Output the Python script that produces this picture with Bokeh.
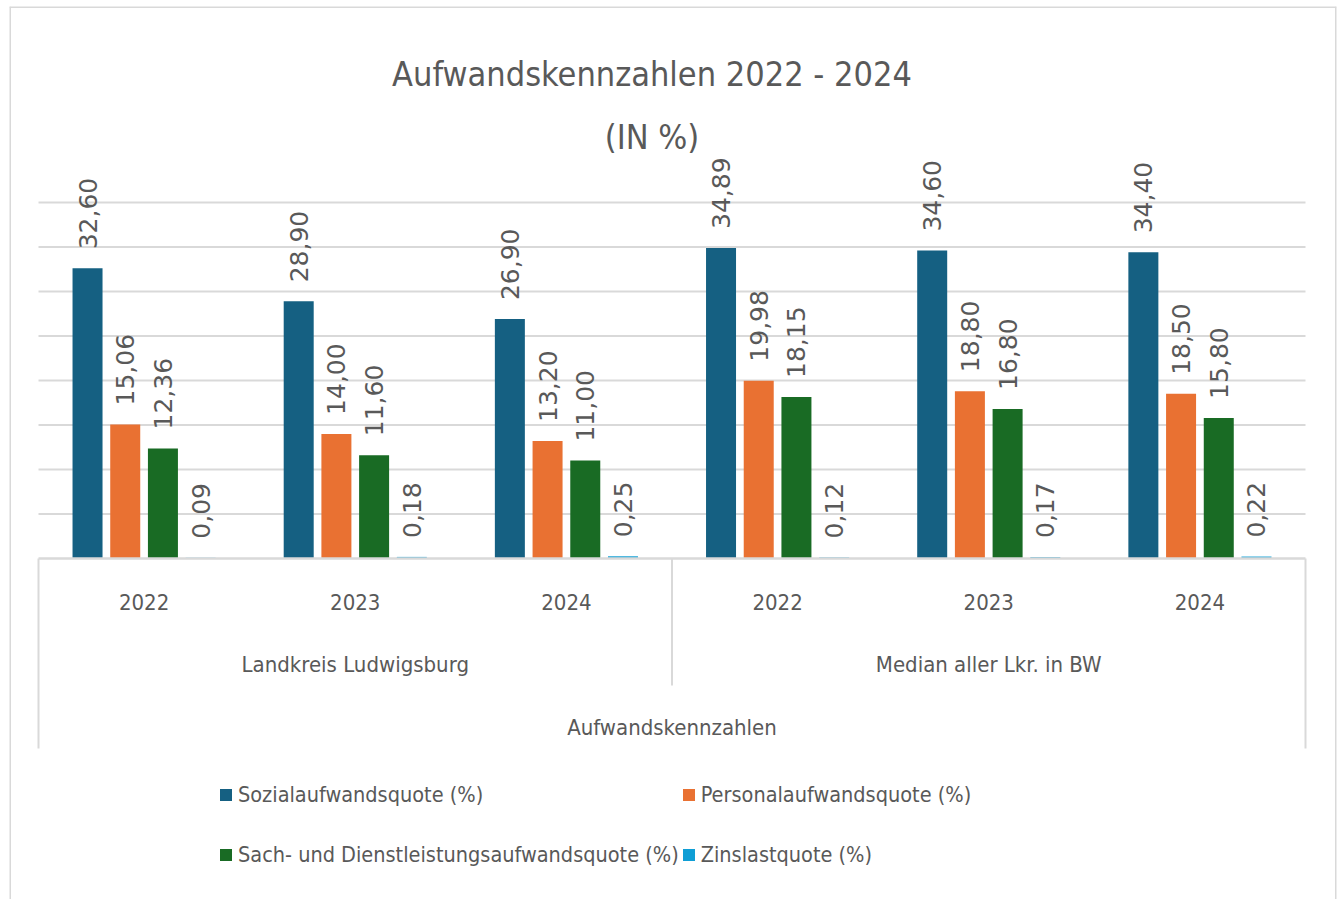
import math
from bokeh.plotting import figure
from bokeh.models import Range1d, Legend, LegendItem
from bokeh.core.properties import value
from bokeh.embed import file_html
from bokeh.resources import INLINE

# ---------------- data ----------------
title_line1 = "Aufwandskennzahlen 2022 - 2024"
title_line2 = "(IN %)"
axis_title = "Aufwandskennzahlen"
groups = ["Landkreis Ludwigsburg", "Median aller Lkr. in BW"]
years = ["2022", "2023", "2024"]
series = [
    "Sozialaufwandsquote (%)",
    "Personalaufwandsquote (%)",
    "Sach- und Dienstleistungsaufwandsquote (%)",
    "Zinslastquote (%)",
]
sozial = [32.60, 28.90, 26.90, 34.89, 34.60, 34.40]
personal = [15.06, 14.00, 13.20, 19.98, 18.80, 18.50]
sach = [12.36, 11.60, 11.00, 18.15, 16.80, 15.80]
zins = [0.09, 0.18, 0.25, 0.12, 0.17, 0.22]
grid_ticks = [5, 10, 15, 20, 25, 30, 35, 40]

# ---------------- styling / layout ----------------
colors = ["#156082", "#E97132", "#196B24", "#0F9ED5"]
TXT = "#595959"
GRID = "#D9D9D9"
NARROW = "DejaVu Sans Condensed"
LBLFONT = "DejaVu Sans"

W, H = 1341, 899
BL, BT, BR, BB = 9, 6, 5, 0            # outer borders -> frame = chart area
FW, FH = W - BL - BR, H - BT - BB      # frame size
PL, PR = 29, 1296                      # plot area left/right inside frame (px)
PB = 552                               # baseline inside frame (px from top)
PPU = 8.9                              # px per value unit
ncat = len(groups) * len(years)
PPX = (PR - PL) / ncat

def ydata(px_from_top):
    return (PB - px_from_top) / PPU

x_rng = Range1d(-PL / PPX, ncat + (FW - PR) / PPX)
y_rng = Range1d(-(FH - PB) / PPU, PB / PPU)

p = figure(width=W, height=H, x_range=x_rng, y_range=y_rng,
           output_backend="svg", toolbar_location=None,
           x_axis_location=None, y_axis_location=None,
           min_border_left=BL, min_border_right=BR,
           min_border_top=BT, min_border_bottom=BB)
p.outline_line_color = None
p.background_fill_color = "white"
p.border_fill_color = "white"
p.xgrid.visible = False
p.ygrid.visible = False

# chart-area border (left, top, right; bottom runs past the window)
p.segment(x0=[x_rng.start, x_rng.start, x_rng.end],
          x1=[x_rng.start, x_rng.end, x_rng.end],
          y0=[y_rng.start, y_rng.end, y_rng.start],
          y1=[y_rng.end, y_rng.end, y_rng.end],
          line_color=GRID, line_width=3)

# gridlines
p.segment(x0=[0] * len(grid_ticks), x1=[ncat] * len(grid_ticks),
          y0=grid_ticks, y1=grid_ticks, line_color=GRID, line_width=2)

# bars
slot = 37.7 / PPX
bw = 30.0 / PPX
all_vals = [sozial, personal, sach, zins]
renderers = []
for i, vals in enumerate(all_vals):
    xs = [k + 0.5 + (i - 1.5) * slot for k in range(ncat)]
    r = p.vbar(x=xs, top=vals, bottom=0, width=bw, fill_color=colors[i],
               line_color=None)
    renderers.append(r)
    labels = [f"{v:.2f}".replace(".", ",") for v in vals]
    p.text(x=xs, y=vals, text=labels, angle=math.pi / 2,
           text_align="left", text_baseline="middle", y_offset=-19,
           text_font=value(LBLFONT), text_font_size="25px", text_color=TXT)

# category axis line and separators
p.segment(x0=[0], x1=[ncat], y0=[0], y1=[0], line_color=GRID, line_width=2.5)
p.segment(x0=[0, ncat], x1=[0, ncat], y0=[0, 0], y1=[-190 / PPU] * 2,
          line_color=GRID, line_width=2)
p.segment(x0=[ncat / 2], x1=[ncat / 2], y0=[0], y1=[-127 / PPU],
          line_color=GRID, line_width=2)

# category labels
cat_x = [k + 0.5 for k in range(ncat)]
p.text(x=cat_x, y=[0] * ncat, text=years * len(groups), y_offset=43,
       text_align="center", text_baseline="middle",
       text_font=value(NARROW), text_font_size="22px", text_color=TXT)
grp_x = [len(years) * (g + 0.5) for g in range(len(groups))]
p.text(x=grp_x, y=[0] * len(groups), text=groups, y_offset=106,
       text_align="center", text_baseline="middle",
       text_font=value(NARROW), text_font_size="22px", text_color=TXT)
p.text(x=[ncat / 2], y=[0], text=[axis_title], y_offset=169,
       text_align="center", text_baseline="middle",
       text_font=value(NARROW), text_font_size="22px", text_color=TXT)

# title
p.text(x=[ncat / 2], y=[ydata(67)], text=[title_line1], x_offset=-20,
       text_align="center", text_baseline="middle",
       text_font=value(NARROW), text_font_size="34px", text_color=TXT)
p.text(x=[ncat / 2], y=[ydata(130)], text=[title_line2], x_offset=-20,
       text_align="center", text_baseline="middle",
       text_font=value(NARROW), text_font_size="34px", text_color=TXT)

# legend
legend = Legend(items=[LegendItem(label=series[i], renderers=[renderers[i]]) for i in range(4)],
                orientation="horizontal", ncols=2, location=(209, 16),
                glyph_width=15, glyph_height=15, label_standoff=5,
                spacing=2, padding=0, margin=0,
                border_line_color=None, background_fill_alpha=0,
                label_text_font=NARROW, label_text_font_size="21.5px",
                label_text_color=TXT, label_height=58)
p.add_layout(legend)

open("out.html", "w").write(file_html(p, INLINE))
